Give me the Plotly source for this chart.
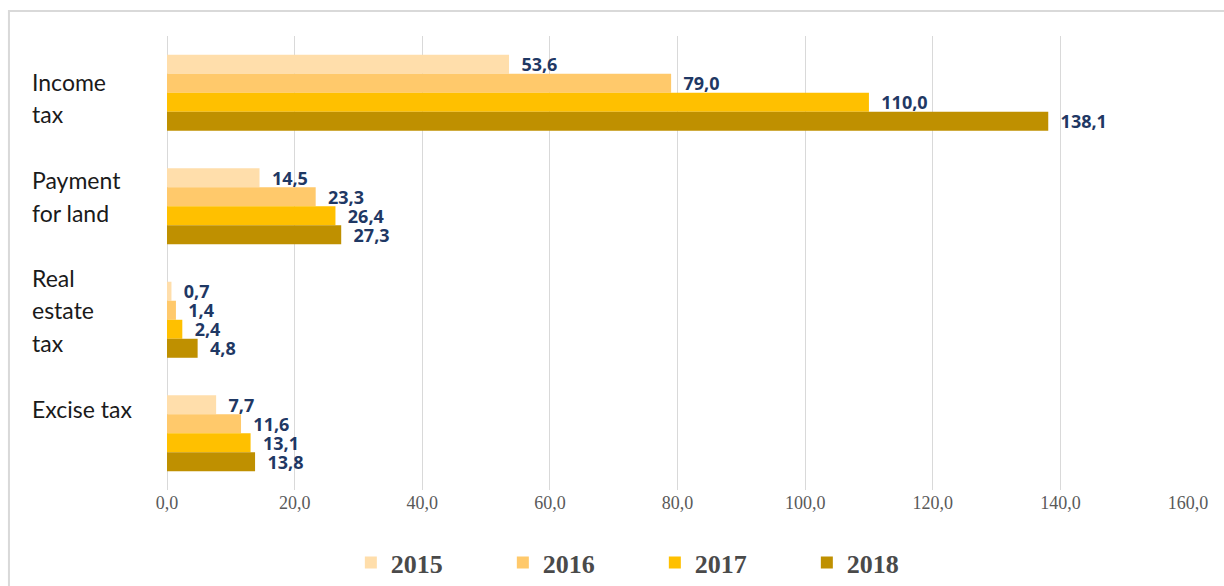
import plotly.graph_objects as go

categories = ["Income tax", "Payment for land", "Real estate tax", "Excise tax"]
category_lines = [["Income", "tax"], ["Payment", "for land"], ["Real", "estate", "tax"], ["Excise tax"]]
years = ["2015", "2016", "2017", "2018"]
values_2015 = [53.6, 14.5, 0.7, 7.7]
values_2016 = [79.0, 23.3, 1.4, 11.6]
values_2017 = [110.0, 26.4, 2.4, 13.1]
values_2018 = [138.1, 27.3, 4.8, 13.8]
x_ticks = [0, 20, 40, 60, 80, 100, 120, 140, 160]

series = [values_2015, values_2016, values_2017, values_2018]
colors = ["#FFDEAB", "#FFC96B", "#FFC000", "#BF9000"]

fig = go.Figure()
for name, vals, col in zip(years, series, colors):
    fig.add_trace(go.Bar(
        y=categories, x=vals, name=name, orientation="h",
        marker=dict(color=col, line=dict(width=0)),
        texttemplate="\u00a0\u00a0%{x:.1f}",
        textposition="outside",
        constraintext="none",
        cliponaxis=False,
        textfont=dict(family="Open Sans", size=18, color="#1F3864", weight="bold"),
    ))

# category labels (left aligned, multi-line with Excel-like spacing)
first_line_shift = [11, 26, 42, 24]
line_gap = 32.5
for cat, lines, sh in zip(categories, category_lines, first_line_shift):
    for i, ln in enumerate(lines):
        fig.add_annotation(
            x=0, xref="paper", xshift=-137, xanchor="left",
            y=cat, yref="y", yanchor="middle", yshift=sh - i * line_gap,
            text=ln, showarrow=False, align="left",
            font=dict(family="Lato", size=23, color="#1a1a1a"),
        )

# outer chart border
fig.add_shape(type="rect", xref="paper", yref="paper",
              x0=-0.1548, x1=1.045, y0=-0.3, y1=1.055,
              line=dict(color="#D9D9D9", width=2), fillcolor="rgba(0,0,0,0)", layer="below")

fig.update_layout(
    width=1224, height=586,
    margin=dict(l=167, r=36, t=36, b=96),
    paper_bgcolor="white", plot_bgcolor="white",
    separators=", ",
    barmode="group", bargap=0.33, bargroupgap=0,
    showlegend=True,
    legend=dict(orientation="h", xref="container", yref="container",
                x=0.535, xanchor="center", y=0.0, yanchor="bottom",
                entrywidth=107, traceorder="normal",
                font=dict(family="Liberation Serif", size=26, color="#4a4a4a", weight="bold")),
    xaxis=dict(range=[0, 160], tickvals=x_ticks, tickformat=".1f",
               showgrid=True, gridcolor="#D9D9D9", gridwidth=1,
               zeroline=True, zerolinecolor="#D9D9D9", zerolinewidth=1,
               showline=False, ticks="",
               tickfont=dict(family="Liberation Serif", size=18, color="#595959")),
    yaxis=dict(autorange="reversed", showticklabels=False, showgrid=False,
               showline=False, ticks="", zeroline=False),
)

fig.write_html("out.html", config={"displayModeBar": False},
               post_script="document.body.style.margin='0';document.body.style.overflow='hidden';")
